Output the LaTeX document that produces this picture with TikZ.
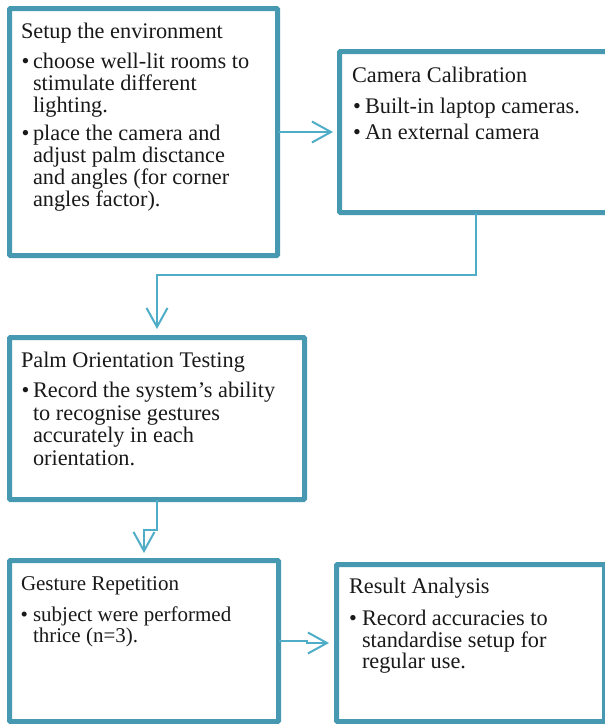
\documentclass[tikz,border=0pt]{standalone}
\usepackage{fontspec}
\setmainfont{Liberation Serif}
\usetikzlibrary{arrows.meta}
\definecolor{boxc}{HTML}{4699B1}
\definecolor{linec}{HTML}{4FADC7}
\begin{document}
\begin{tikzpicture}[x=1pt,y=-1pt,
  box/.style={draw=boxc, line width=5pt, rounded corners=1pt, outer sep=0pt, inner sep=0pt, anchor=north west},
  conn/.style={draw=linec, line width=2pt, -{Straight Barb[length=19pt,width=21pt]}},
  txt/.style={anchor=base west, inner sep=0pt, outer sep=0pt, text=black!90, font=\fontsize{22.3}{24}\selectfont},
  ttxt/.style={anchor=base west, inner sep=0pt, outer sep=0pt, text=black!90, font=\fontsize{21}{22}\selectfont},
]
\useasboundingbox (0,0) rectangle (605,724);
\begin{scope}
\clip (0,0) rectangle (605,724);
% boxes
\node[box, minimum width=268pt, minimum height=247pt] (b1) at (9.5,8.5) {};
\node[box, minimum width=272.5pt, minimum height=161pt] (b2) at (339.5,51.5) {};
\node[box, minimum width=295pt, minimum height=162pt] (b3) at (9.5,337.5) {};
\node[box, minimum width=269pt, minimum height=161pt] (b4) at (9.5,560.5) {};
\node[box, minimum width=268pt, minimum height=157pt] (b5) at (336.5,564.5) {};
% connectors
\draw[conn, shorten >=6.5pt] (b1.east) -- (b2.west);
\draw[conn, shorten >=8.5pt] (b2.south) -- ++(0,62.5) -| (b3.north);
\draw[conn, shorten >=7.5pt] (b3.south) -- ++(0,30.5) -| (b4.north);
\draw[conn, shorten >=7.5pt] (b4.east) -- ++(28,0) |- (b5.west);
\end{scope}
% box 1 text
\node[txt] (t1) at (21,38) {Setup the environment};
\node[txt] (t1b1) at (21.5,68) {\textbullet};
\node[txt] (t1l1) at (33,68) {choose well-lit rooms to};
\node[txt] (t1l2) at (33,90) {stimulate different};
\node[txt] (t1l3) at (33,112) {lighting.};
\node[txt] (t1b2) at (21.5,140) {\textbullet};
\node[txt] (t1l4) at (33,140) {place the camera and};
\node[txt] (t1l5) at (33,162) {adjust palm disctance};
\node[txt] (t1l6) at (33,184) {and angles (for corner};
\node[txt] (t1l7) at (33,206) {angles factor).};
% box 2 text
\node[txt] (t2) at (352,82) {Camera Calibration};
\node[txt] (t2b1) at (353,113) {\textbullet};
\node[txt] (t2l1) at (365,113) {Built-in laptop cameras.};
\node[txt] (t2b2) at (353,139) {\textbullet};
\node[txt] (t2l2) at (365,139) {An external camera};
% box 3 text
\node[txt] (t3) at (21,367) {Palm Orientation Testing};
\node[txt] (t3b1) at (21.5,397) {\textbullet};
\node[txt] (t3l1) at (33,397) {Record the system’s ability};
\node[txt] (t3l2) at (33,420) {to recognise gestures};
\node[txt] (t3l3) at (33,442) {accurately in each};
\node[txt] (t3l4) at (33,465) {orientation.};
% box 4 text
\node[ttxt] (t4) at (21,590) {Gesture Repetition};
\node[ttxt] (t4b1) at (20.5,621) {\textbullet};
\node[ttxt] (t4l1) at (33,621) {subject were performed};
\node[ttxt] (t4l2) at (33,642) {thrice (n=3).};
% box 5 text
\node[txt] (t5) at (349,593) {Result Analysis};
\node[txt] (t5b1) at (349,625) {\textbullet};
\node[txt] (t5l1) at (362,625) {Record accuracies to};
\node[txt] (t5l2) at (362,647) {standardise setup for};
\node[txt] (t5l3) at (362,668) {regular use.};
\end{tikzpicture}
\end{document}
